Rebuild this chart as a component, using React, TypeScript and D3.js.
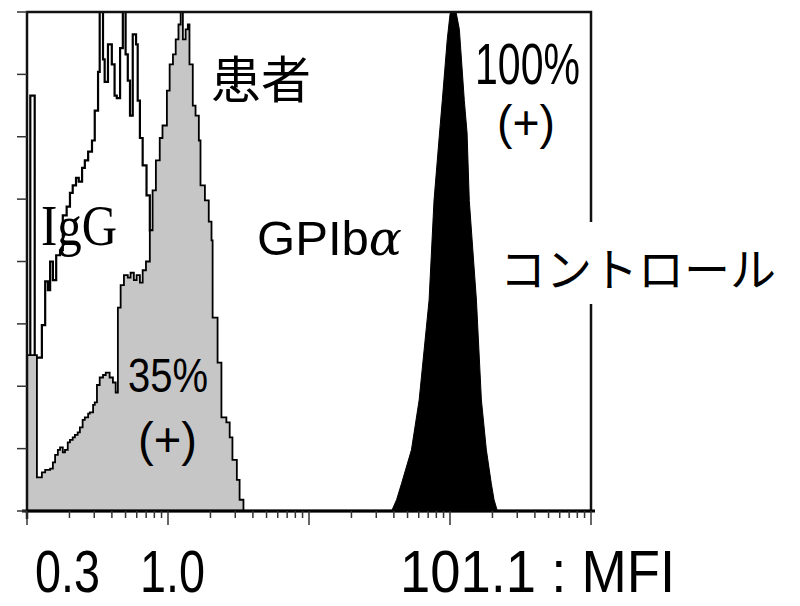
import React from "react";
import * as d3 from "d3";

// Flow-cytometry histograms: channel (1024 ch over 4 decades) vs. count
const igGChannels = [6, 14, 27, 33, 38, 42, 47, 53, 60, 65, 72, 78, 83, 89, 94, 100, 105, 111, 118, 123, 129, 132, 138, 141, 147, 154, 159, 163, 169, 174, 179, 183, 187, 192, 198, 201, 205, 210, 217, 223, 232, 241, 250, 259, 268, 277];
const igGCounts = [333, 123, 149, 184, 177, 200, 185, 205, 209, 237, 244, 255, 261, 267, 264, 275, 281, 288, 297, 321, 352, 430, 362, 344, 374, 358, 333, 331, 371, 430, 366, 345, 317, 382, 374, 329, 299, 277, 253, 225, 201, 145, 73, 25, 5, 0];

const patientChannels = [0, 18, 27, 33, 42, 47, 51, 56, 60, 65, 69, 74, 78, 83, 87, 92, 96, 101, 105, 111, 114, 120, 123, 127, 132, 138, 143, 150, 156, 161, 165, 170, 176, 183, 188, 194, 199, 205, 210, 216, 223, 228, 234, 241, 246, 254, 259, 265, 270, 275, 279, 283, 288, 292, 295, 301, 306, 312, 315, 323, 330, 335, 337, 346, 353, 362, 368, 373, 381, 386, 393];
const patientCounts = [125, 27, 31, 33, 34, 39, 45, 49, 51, 47, 49, 55, 57, 59, 61, 63, 67, 73, 75, 78, 79, 85, 87, 101, 107, 109, 111, 107, 103, 95, 163, 181, 189, 187, 191, 185, 189, 183, 193, 200, 225, 257, 281, 299, 309, 337, 358, 366, 378, 390, 430, 378, 386, 390, 358, 325, 317, 297, 261, 249, 232, 217, 155, 119, 75, 71, 59, 41, 25, 9, 0];

const controlChannels = [662, 671, 680, 698, 712, 730, 739, 749, 754, 763, 768, 774, 779, 785, 794, 799, 803, 816, 825, 834, 843, 848, 854];
const controlCounts = [0, 9, 22, 49, 89, 169, 249, 303, 329, 378, 398, 410, 400, 386, 329, 303, 249, 169, 89, 49, 22, 9, 0];

const yTicks = [0, 50, 100, 150, 200, 250, 300, 350, 400];
const mfiLabels = ["0.3", "1.0", "101.1 : MFI"];

const W = 800, H = 606;
const L = 27, R = 591, T = 12, B = 511;

export default function App() {
  const x = d3.scaleLog().domain([1, 10000]).range([L, R]);
  const y = d3.scaleLinear().domain([0, 400]).range([B, T]);
  const chToI = (c: number) => Math.pow(10, c / 256);

  const stepArea = (ch: number[], ct: number[]) =>
    d3.area<number>()
      .x((_, i) => x(chToI(ch[i])))
      .y0(y(0))
      .y1((_, i) => y(ct[i]))
      .curve(d3.curveStepAfter)(ct.map((_, i) => i)) || "";
  const stepLine = (ch: number[], ct: number[]) =>
    d3.line<number>()
      .x((_, i) => x(chToI(ch[i])))
      .y((_, i) => y(ct[i]))
      .curve(d3.curveStepAfter)(ct.map((_, i) => i)) || "";
  const linArea = d3.area<number>()
    .x((_, i) => x(chToI(controlChannels[i])))
    .y0(y(0))
    .y1((_, i) => y(controlCounts[i]))(controlCounts.map((_, i) => i)) || "";

  const logTicks: { v: number; major: boolean }[] = [];
  for (let e = 0; e < 4; e++) {
    for (let m = 1; m <= 9; m++) logTicks.push({ v: m * Math.pow(10, e), major: m === 1 });
  }
  logTicks.push({ v: 10000, major: true });

  const sans = "'Liberation Sans', Arial, sans-serif";
  const cjk = "'Noto Sans CJK JP', sans-serif";

  return (
    <svg width={W} height={H} style={{ position: "absolute", left: 0, top: 0, background: "#fff" }}>
      <defs>
        <clipPath id="plotclip">
          <rect x={L} y={T} width={R - L} height={B - T} />
        </clipPath>
      </defs>
      <g clipPath="url(#plotclip)">
        <path d={stepLine([0, ...igGChannels], [0, ...igGCounts])} fill="none" stroke="#000" strokeWidth={2.2} />
        <path d={stepArea(patientChannels, patientCounts)} fill="#c6c6c6" />
        <path d={stepLine(patientChannels, patientCounts)} fill="none" stroke="#000" strokeWidth={1.8} />
        <path d={linArea} fill="#000" stroke="#000" strokeWidth={1} />
      </g>
      {/* frame */}
      <rect x={L} y={T} width={R - L} height={B - T} fill="none" stroke="#111" strokeWidth={2.5} />
      <line x1={L} x2={L} y1={B} y2={B + 8} stroke="#111" strokeWidth={2.5} />
      <line x1={L - 5} x2={R + 4} y1={B} y2={B} stroke="#000" strokeWidth={3} />
      {yTicks.map((t) => (
        <line key={"yt" + t} x1={L - 10} x2={L} y1={y(t)} y2={y(t)} stroke="#333" strokeWidth={1.5} />
      ))}
      {logTicks.map((t, i) => (
        <line key={"xt" + i} x1={x(t.v)} x2={x(t.v)} y1={B} y2={B + (t.major ? 14 : 7)} stroke="#333" strokeWidth={1.5} />
      ))}
      {/* labels */}
      <text x={211} y={98} fontFamily={cjk} fontSize={50} fill="#000">患者</text>
      <text x={41} y={245} fontFamily="'Liberation Serif', serif" fontSize={56} textLength={76} lengthAdjust="spacingAndGlyphs" fill="#000">IgG</text>
      <text x={257} y={255} fontFamily={sans} fontSize={48} fill="#000" textLength={145} lengthAdjust="spacingAndGlyphs">GPIb<tspan fontFamily="'DejaVu Serif', serif" fontStyle="italic">α</tspan></text>
      <text x={475} y={84} fontFamily={sans} fontSize={58} textLength={105} lengthAdjust="spacingAndGlyphs">100%</text>
      <text x={497} y={139} fontFamily={sans} fontSize={48} textLength={58} lengthAdjust="spacingAndGlyphs">(+)</text>
      <rect x={498} y={222} width={300} height={82} fill="#fff" />
      <text x={500} y={286} fontFamily={cjk} fontSize={46} fill="#000">コントロール</text>
      <text x={128} y={392} fontFamily={sans} fontSize={48} textLength={80} lengthAdjust="spacingAndGlyphs">35%</text>
      <text x={138} y={456} fontFamily={sans} fontSize={48} textLength={59} lengthAdjust="spacingAndGlyphs">(+)</text>
      <text x={35} y={592} fontFamily={sans} fontSize={60} textLength={65} lengthAdjust="spacingAndGlyphs">{mfiLabels[0]}</text>
      <text x={140} y={592} fontFamily={sans} fontSize={60} textLength={65} lengthAdjust="spacingAndGlyphs">{mfiLabels[1]}</text>
      <text x={400} y={592} fontFamily={sans} fontSize={60} textLength={275} lengthAdjust="spacingAndGlyphs">{mfiLabels[2]}</text>
    </svg>
  );
}
